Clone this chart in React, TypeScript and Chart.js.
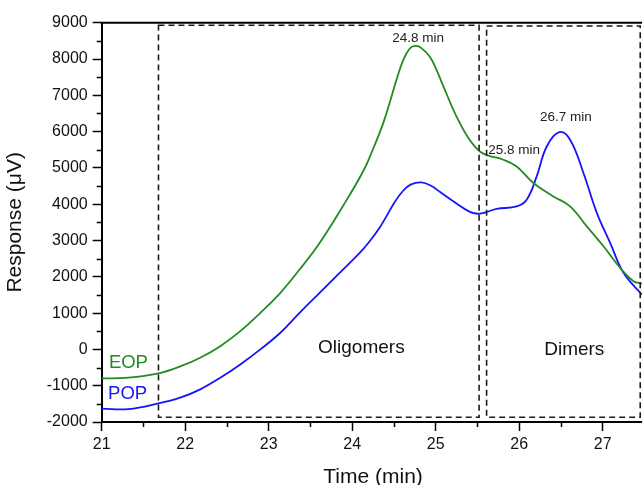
import React, { useEffect, useRef } from 'react';
import { Chart, registerables } from 'chart.js';

Chart.register(...registerables);

// ---- Data ----
const eopTime = [21.0, 21.32, 21.68, 21.94, 22.18, 22.42, 22.66, 22.9, 23.14, 23.37, 23.61, 23.89, 24.13, 24.25, 24.37, 24.45, 24.53, 24.61, 24.69, 24.76, 24.83, 24.93, 25.01, 25.09, 25.25, 25.41, 25.53, 25.63, 25.81, 25.97, 26.17, 26.41, 26.61, 26.81, 27.01, 27.21, 27.37, 27.47];
const eopResponse = [-800, -780, -660, -470, -230, 90, 503, 1008, 1558, 2200, 2933, 3950, 4900, 5520, 6220, 6800, 7420, 7960, 8290, 8360, 8300, 8060, 7700, 7260, 6415, 5760, 5450, 5340, 5225, 5040, 4585, 4215, 3940, 3390, 2840, 2245, 1880, 1815];

const popTime = [21.0, 21.32, 21.68, 21.94, 22.18, 22.42, 22.66, 22.9, 23.14, 23.37, 23.61, 23.85, 24.09, 24.21, 24.33, 24.41, 24.51, 24.61, 24.7, 24.83, 24.95, 25.05, 25.21, 25.41, 25.53, 25.73, 25.97, 26.09, 26.21, 26.33, 26.48, 26.61, 26.77, 26.93, 27.09, 27.25, 27.47];
const popResponse = [-1632, -1645, -1490, -1330, -1100, -780, -413, 0, 458, 1008, 1558, 2108, 2658, 2980, 3360, 3665, 4060, 4370, 4540, 4600, 4500, 4340, 4080, 3790, 3740, 3870, 3940, 4125, 4765, 5590, 5985, 5775, 4860, 3760, 2935, 2110, 1510];

const xTicks = [21, 22, 23, 24, 25, 26, 27];
const xMinorTicks = [21.5, 22.5, 23.5, 24.5, 25.5, 26.5, 27.5];
const yTicks = [-2000, -1000, 0, 1000, 2000, 3000, 4000, 5000, 6000, 7000, 8000, 9000];
const yMinorTicks = [-1500, -500, 500, 1500, 2500, 3500, 4500, 5500, 6500, 7500, 8500];

const seriesNames = ['EOP', 'POP'];
const peakLabels = ['24.8 min', '25.8 min', '26.7 min'];
const regionNames = ['Oligomers', 'Dimers'];

const FONT = "'Liberation Sans', Arial, Helvetica, sans-serif";
const GREEN = '#228B22';
const BLUE = '#1414ff';

const overlayPlugin = {
  id: 'overlay',
  afterDatasetsDraw(chart: any) {
    const { ctx, chartArea: a, scales } = chart;
    const x = scales.x;
    const y = scales.y;
    const px = (v: number) => x.getPixelForValue(v);
    const py = (v: number) => y.getPixelForValue(v);
    ctx.save();

    // top / right frame
    ctx.strokeStyle = '#000';
    ctx.lineWidth = 2;
    ctx.setLineDash([]);
    ctx.beginPath();
    ctx.moveTo(a.left - 1, a.top);
    ctx.lineTo(a.right, a.top);
    ctx.lineTo(a.right, a.bottom);
    ctx.stroke();

    // minor ticks
    ctx.lineWidth = 1.5;
    ctx.beginPath();
    yMinorTicks.forEach((v) => {
      const yy = Math.round(py(v)) + 0.5;
      ctx.moveTo(a.left, yy);
      ctx.lineTo(a.left - 5, yy);
    });
    xMinorTicks.forEach((v) => {
      const xx = Math.round(px(v)) + 0.5;
      ctx.moveTo(xx, a.bottom);
      ctx.lineTo(xx, a.bottom + 5);
    });
    ctx.stroke();

    // dashed region boxes
    ctx.strokeStyle = '#1a1a1a';
    ctx.lineWidth = 1.6;
    ctx.setLineDash([6, 4]);
    const box = (x0: number, x1: number, y0: number, y1: number) => {
      ctx.beginPath();
      ctx.rect(px(x0), py(y1), px(x1) - px(x0), py(y0) - py(y1));
      ctx.stroke();
    };
    box(21.68, 25.52, -1870, 8930);
    box(25.61, 27.45, -1870, 8910);
    ctx.setLineDash([]);

    // texts
    ctx.textAlign = 'center';
    ctx.textBaseline = 'middle';
    ctx.fillStyle = '#222';
    ctx.font = `13.5px ${FONT}`;
    ctx.fillText(peakLabels[0], px(24.79), py(8571));
    ctx.fillText(peakLabels[1], px(25.94), py(5499));
    ctx.fillText(peakLabels[2], px(26.56), py(6398));

    ctx.fillStyle = '#111';
    ctx.font = `19px ${FONT}`;
    ctx.fillText(regionNames[0], px(24.11), py(46));
    ctx.fillText(regionNames[1], px(26.66), py(-20));

    ctx.font = `18.5px ${FONT}`;
    ctx.fillStyle = GREEN;
    ctx.fillText(seriesNames[0], px(21.32), py(-367));
    ctx.fillStyle = BLUE;
    ctx.fillText(seriesNames[1], px(21.31), py(-1238));

    ctx.restore();
  },
};

export default function App() {
  const ref = useRef<HTMLCanvasElement | null>(null);

  useEffect(() => {
    if (!ref.current) return;
    const eopData = eopTime.map((t, i) => ({ x: t, y: eopResponse[i] }));
    const popData = popTime.map((t, i) => ({ x: t, y: popResponse[i] }));

    const chart = new Chart(ref.current, {
      type: 'line',
      data: {
        datasets: [
          {
            label: seriesNames[0],
            data: eopData,
            borderColor: GREEN,
            borderWidth: 1.8,
            pointRadius: 0,
            tension: 0.4,
            fill: false,
          },
          {
            label: seriesNames[1],
            data: popData,
            borderColor: BLUE,
            borderWidth: 1.8,
            pointRadius: 0,
            tension: 0.4,
            fill: false,
          },
        ],
      },
      options: {
        responsive: false,
        animation: false,
        devicePixelRatio: 1,
        layout: { padding: { left: 0, top: 22.7, right: 15.6, bottom: 0 } },
        plugins: { legend: { display: false }, tooltip: { enabled: false } },
        scales: {
          x: {
            type: 'linear',
            min: 21,
            max: 27.5,
            afterBuildTicks: (s: any) => {
              s.ticks = xTicks.map((v) => ({ value: v }));
            },
            afterFit: (s: any) => {
              s.height = 73;
            },
            border: { display: true, color: '#000', width: 2 },
            grid: {
              drawOnChartArea: false,
              drawTicks: true,
              tickLength: 9,
              tickColor: '#000',
              tickWidth: 1.5,
            },
            ticks: {
              color: '#111',
              padding: 4,
              maxRotation: 0,
              autoSkip: false,
              font: { family: FONT, size: 16 },
              callback: (v: any) => String(v),
            },
            title: {
              display: true,
              text: 'Time (min)',
              color: '#111',
              font: { family: FONT, size: 21 },
              padding: { top: 0, bottom: 5.4 },
            },
          },
          y: {
            type: 'linear',
            min: -2000,
            max: 9000,
            afterBuildTicks: (s: any) => {
              s.ticks = yTicks.map((v) => ({ value: v }));
            },
            afterFit: (s: any) => {
              s.width = 101.7;
            },
            border: { display: true, color: '#000', width: 2 },
            grid: {
              drawOnChartArea: false,
              drawTicks: true,
              tickLength: 9,
              tickColor: '#000',
              tickWidth: 1.5,
            },
            ticks: {
              color: '#111',
              padding: 5,
              autoSkip: false,
              font: { family: FONT, size: 16 },
              callback: (v: any) => String(v),
            },
            title: {
              display: true,
              text: 'Response (\u03BCV)',
              color: '#111',
              font: { family: FONT, size: 21 },
              padding: { top: 3, bottom: 0 },
            },
          },
        },
      },
      plugins: [overlayPlugin],
    } as any);

    return () => chart.destroy();
  }, []);

  return (
    <div style={{ position: 'fixed', left: 0, top: 0, width: 660, height: 495, background: '#fff' }}>
      <canvas ref={ref} width={660} height={495} style={{ display: 'block' }} />
    </div>
  );
}
